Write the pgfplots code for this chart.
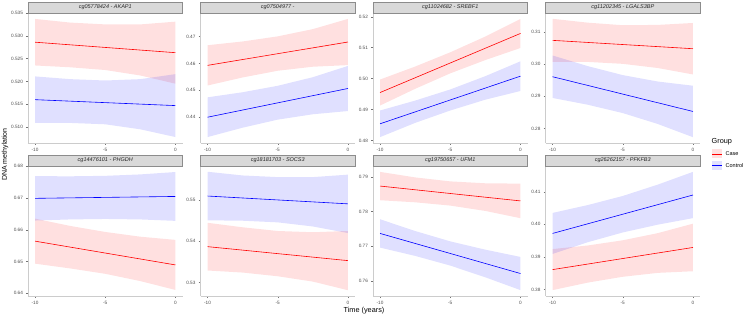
\documentclass[border=0pt]{standalone}
\usepackage{pgfplots}
\pgfplotsset{compat=1.18}
\usepackage{fontspec}
\setmainfont{Liberation Sans}
\definecolor{stripfill}{HTML}{D9D9D9}
\definecolor{stripdraw}{HTML}{8C8C8C}
\definecolor{ticklab}{HTML}{4D4D4D}
\pgfplotsset{
  panel/.style={
    scale only axis, width=154.5pt, height=130pt, anchor=south west,
    xmin=-10.5, xmax=0.5, xtick={-10,-5,0},
    axis x line*=bottom, axis y line*=left,
    axis line style={black!20, line width=0.5pt},
    tick style={black!55, line width=0.4pt},
    tick align=outside, major tick length=2pt,
    tick label style={font=\fontsize{4.7}{5.5}\selectfont, text=ticklab},
    /pgf/number format/assume math mode=true,
    yticklabel style={/pgf/number format/fixed, /pgf/number format/fixed zerofill, /pgf/number format/precision=2, xshift=0.5pt},
    xticklabel style={yshift=0.5pt},
    clip=false,
  },
  caseband/.style={draw=none, fill=red, fill opacity=0.12},
  ctrlband/.style={draw=none, fill=blue, fill opacity=0.12},
  caseline/.style={red, line width=0.6pt},
  ctrlline/.style={blue, line width=0.6pt},
}
\newcommand{\strip}[2]{%
  \draw[fill=stripfill, draw=stripdraw, line width=0.4pt] (#1.north west) rectangle ([yshift=11pt]#1.north east);
  \node[font=\fontsize{5.5}{6}\selectfont\itshape, text=black!85] at ([yshift=5.5pt]#1.north) {#2};
}
\begin{document}
\begin{tikzpicture}
\useasboundingbox (0,0) rectangle (746pt,316pt);

% Panel 1
\begin{axis}[panel, name=p1, at={(28pt,173pt)}, ymin=0.5065, ymax=0.5350,
  ytick={0.510,0.515,0.520,0.525,0.530,0.535},
  yticklabel style={/pgf/number format/precision=3}]
\addplot[caseband] coordinates {(-10,0.5337) (-7.5,0.5329) (-5,0.5325) (-2.5,0.5325) (0,0.5331) (0,0.5195) (-2.5,0.5213) (-5,0.5225) (-7.5,0.5231) (-10,0.5235)} --cycle;
\addplot[ctrlband] coordinates {(-10,0.5211) (-7.5,0.5205) (-5,0.5202) (-2.5,0.5205) (0,0.5216) (0,0.5078) (-2.5,0.5095) (-5,0.5106) (-7.5,0.5109) (-10,0.5109)} --cycle;
\addplot[caseline] coordinates {(-10,0.5286) (0,0.5263)};
\addplot[ctrlline] coordinates {(-10,0.5160) (0,0.5147)};
\end{axis}
\strip{p1}{cg05778424 - AKAP1}

% Panel 2
\begin{axis}[panel, name=p2, at={(200.5pt,173pt)}, ymin=0.4304, ymax=0.4788,
  ytick={0.44,0.45,0.46,0.47}]
\addplot[caseband] coordinates {(-10,0.4668) (-7.5,0.4682) (-5,0.4701) (-2.5,0.4728) (0,0.4766) (0,0.4594) (-2.5,0.4588) (-5,0.4573) (-7.5,0.4548) (-10,0.4518)} --cycle;
\addplot[ctrlband] coordinates {(-10,0.4474) (-7.5,0.4493) (-5,0.4517) (-2.5,0.4549) (0,0.4591) (0,0.4423) (-2.5,0.4411) (-5,0.4391) (-7.5,0.4361) (-10,0.4326)} --cycle;
\addplot[caseline] coordinates {(-10,0.4593) (0,0.4680)};
\addplot[ctrlline] coordinates {(-10,0.4400) (0,0.4507)};
\end{axis}
\strip{p2}{cg07504977 -}

% Panel 3
\begin{axis}[panel, name=p3, at={(373pt,173pt)}, ymin=0.4792, ymax=0.5212,
  ytick={0.48,0.49,0.50,0.51,0.52}]
\addplot[caseband] coordinates {(-10,0.4997) (-7.5,0.5039) (-5,0.5085) (-2.5,0.5136) (0,0.5193) (0,0.5099) (-2.5,0.5060) (-5,0.5017) (-7.5,0.4967) (-10,0.4913)} --cycle;
\addplot[ctrlband] coordinates {(-10,0.4897) (-7.5,0.4929) (-5,0.4965) (-2.5,0.5008) (0,0.5056) (0,0.4960) (-2.5,0.4932) (-5,0.4897) (-7.5,0.4857) (-10,0.4811)} --cycle;
\addplot[caseline] coordinates {(-10,0.4955) (0,0.5146)};
\addplot[ctrlline] coordinates {(-10,0.4854) (0,0.5008)};
\end{axis}
\strip{p3}{cg11024682 - SREBF1}

% Panel 4
\begin{axis}[panel, name=p4, at={(545.5pt,173pt)}, ymin=0.2755, ymax=0.3159,
  ytick={0.28,0.29,0.30,0.31}]
\addplot[caseband] coordinates {(-10,0.3141) (-7.5,0.3129) (-5,0.3121) (-2.5,0.3122) (0,0.3128) (0,0.2968) (-2.5,0.2988) (-5,0.3001) (-7.5,0.3007) (-10,0.3007)} --cycle;
\addplot[ctrlband] coordinates {(-10,0.3027) (-7.5,0.2994) (-5,0.2966) (-2.5,0.2946) (0,0.2933) (0,0.2773) (-2.5,0.2814) (-5,0.2848) (-7.5,0.2874) (-10,0.2895)} --cycle;
\addplot[caseline] coordinates {(-10,0.3074) (0,0.3048)};
\addplot[ctrlline] coordinates {(-10,0.2961) (0,0.2853)};
\end{axis}
\strip{p4}{cg11202345 - LGALS3BP}

% Panel 5
\begin{axis}[panel, name=p5, at={(28pt,20pt)}, ymin=0.6391, ymax=0.6801,
  ytick={0.64,0.65,0.66,0.67,0.68}]
\addplot[caseband] coordinates {(-10,0.6635) (-7.5,0.6612) (-5,0.6593) (-2.5,0.6578) (0,0.6568) (0,0.6410) (-2.5,0.6438) (-5,0.6461) (-7.5,0.6478) (-10,0.6493)} --cycle;
\addplot[ctrlband] coordinates {(-10,0.6769) (-7.5,0.67685) (-5,0.6770) (-2.5,0.67745) (0,0.6782) (0,0.6628) (-2.5,0.66325) (-5,0.6634) (-7.5,0.66325) (-10,0.6629)} --cycle;
\addplot[caseline] coordinates {(-10,0.6564) (0,0.6489)};
\addplot[ctrlline] coordinates {(-10,0.6699) (0,0.6705)};
\end{axis}
\strip{p5}{cg14476101 - PHGDH}

% Panel 6
\begin{axis}[panel, name=p6, at={(200.5pt,20pt)}, ymin=0.5267, ymax=0.5583,
  ytick={0.53,0.54,0.55}]
\addplot[caseband] coordinates {(-10,0.5445) (-7.5,0.5434) (-5,0.5425) (-2.5,0.5422) (0,0.5425) (0,0.5281) (-2.5,0.5302) (-5,0.5315) (-7.5,0.5324) (-10,0.5329)} --cycle;
\addplot[ctrlband] coordinates {(-10,0.5569) (-7.5,0.5560) (-5,0.5556) (-2.5,0.5556) (0,0.5562) (0,0.5420) (-2.5,0.5436) (-5,0.5446) (-7.5,0.5450) (-10,0.5451)} --cycle;
\addplot[caseline] coordinates {(-10,0.5387) (0,0.5353)};
\addplot[ctrlline] coordinates {(-10,0.5510) (0,0.5491)};
\end{axis}
\strip{p6}{cg18181703 - SOCS3}

% Panel 7
\begin{axis}[panel, name=p7, at={(373pt,20pt)}, ymin=0.7556, ymax=0.7932,
  ytick={0.76,0.77,0.78,0.79}]
\addplot[caseband] coordinates {(-10,0.7915) (-7.5,0.7899) (-5,0.78875) (-2.5,0.7882) (0,0.7881) (0,0.7781) (-2.5,0.7802) (-5,0.78175) (-7.5,0.7827) (-10,0.7833)} --cycle;
\addplot[ctrlband] coordinates {(-10,0.7778) (-7.5,0.7744) (-5,0.7714) (-2.5,0.7690) (0,0.7669) (0,0.7573) (-2.5,0.7610) (-5,0.7644) (-7.5,0.7672) (-10,0.7696)} --cycle;
\addplot[caseline] coordinates {(-10,0.7874) (0,0.7831)};
\addplot[ctrlline] coordinates {(-10,0.7737) (0,0.7621)};
\end{axis}
\strip{p7}{cg19750657 - UFM1}

% Panel 8
\begin{axis}[panel, name=p8, at={(545.5pt,20pt)}, ymin=0.3780, ymax=0.4179,
  ytick={0.38,0.39,0.40,0.41}]
\addplot[caseband] coordinates {(-10,0.3924) (-7.5,0.3935) (-5,0.3951) (-2.5,0.3973) (0,0.4002) (0,0.3856) (-2.5,0.3851) (-5,0.3839) (-7.5,0.3821) (-10,0.3798)} --cycle;
\addplot[ctrlband] coordinates {(-10,0.4035) (-7.5,0.4059) (-5,0.4087) (-2.5,0.4122) (0,0.4161) (0,0.4019) (-2.5,0.3999) (-5,0.3975) (-7.5,0.3945) (-10,0.3909)} --cycle;
\addplot[caseline] coordinates {(-10,0.3861) (0,0.3929)};
\addplot[ctrlline] coordinates {(-10,0.3972) (0,0.4090)};
\end{axis}
\strip{p8}{cg26262157 - PFKFB3}

% axis titles
\node[rotate=90, font=\fontsize{7}{8}\selectfont] at (5pt,161.5pt) {DNA methylation};
\node[font=\fontsize{7.3}{8}\selectfont] at (364pt,5.5pt) {Time (years)};

% legend
\node[anchor=west, font=\fontsize{7.3}{8}\selectfont, inner sep=0pt] at (711.5pt,174pt) {Group};
\fill[red, fill opacity=0.12] (712pt,157.5pt) rectangle (722pt,166.5pt);
\draw[red, line width=0.6pt] (712pt,162pt) -- (722pt,162pt);
\node[anchor=west, font=\fontsize{5.5}{6}\selectfont, inner sep=0pt] at (725.5pt,162pt) {Case};
\fill[blue, fill opacity=0.12] (712pt,146pt) rectangle (722pt,155pt);
\draw[blue, line width=0.6pt] (712pt,150.5pt) -- (722pt,150.5pt);
\node[anchor=west, font=\fontsize{5.5}{6}\selectfont, inner sep=0pt] at (725.5pt,150.5pt) {Control};
\end{tikzpicture}
\end{document}
